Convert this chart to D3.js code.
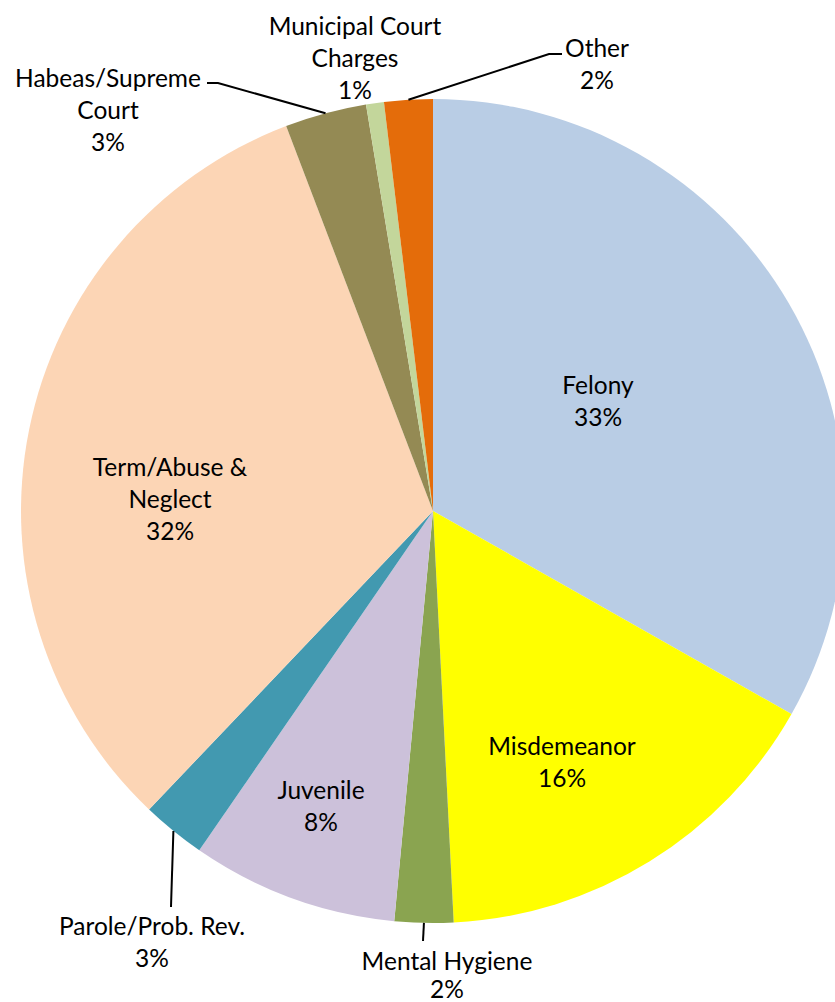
<!DOCTYPE html>
<html>
<head>
<meta charset="utf-8">
<script src="https://cdn.jsdelivr.net/npm/d3@7"></script>
<style>
  body { margin: 0; background: #fff; }
  svg text { font-family: Lato, "Open Sans", sans-serif; fill: #000; }
</style>
</head>
<body>
<div id="chart"></div>
<script>
// slices, clockwise from 12 o'clock
let categories = ["Felony", "Misdemeanor", "Mental Hygiene", "Juvenile", "Parole/Prob. Rev.",
  "Term/Abuse & Neglect", "Habeas/Supreme Court", "Municipal Court Charges", "Other"];
let values = [33.2, 16.0, 2.3, 8.1, 2.5, 32.1, 3.2, 0.7, 1.9];
let pctLabels = ["33%", "16%", "2%", "8%", "3%", "32%", "3%", "1%", "2%"];
let colors = ["#B9CDE5", "#FFFF00", "#8AA450", "#CCC1DA", "#4299B0",
  "#FCD5B5", "#948A54", "#C3D69B", "#E46C0A"];

// label layout: text lines, block centre, optional leader line bend points
let labelLines = [
  ["Felony"], ["Misdemeanor"], ["Mental Hygiene"], ["Juvenile"], ["Parole/Prob. Rev."],
  ["Term/Abuse &", "Neglect"], ["Habeas/Supreme", "Court"], ["Municipal Court", "Charges"], ["Other"]
];
let labelAt = [[598, 384], [562, 745], [447, 960], [321, 789], [152, 925],
  [170, 466], [108, 77], [355, 25], [597, 47]];
let leaders = [null, null, [[423, 941]], null, [[171, 907]],
  null, [[218, 83], [207, 83]], null, [[549, 54], [562, 54]]];

let width = 835, height = 1002;
let cx = 433, cy = 511, radius = 412;
let lineH = 32;

let svg = d3.select("#chart").append("svg")
    .attr("width", width)
    .attr("height", height);

let g = svg.append("g")
    .attr("transform", "translate(" + cx + "," + cy + ")");

let pie = d3.pie().sort(null).value(d => d);
let arc = d3.arc().innerRadius(0).outerRadius(radius);
let arcs = pie(values);

g.selectAll("path.slice")
    .data(arcs)
  .enter()
    .append("path")
      .attr("class", "slice")
      .attr("d", arc)
      .attr("fill", (d, i) => colors[i]);

// leader lines from the outer edge at the slice's mid angle
arcs.forEach((d, i) => {
  if (!leaders[i]) return;
  let a = (d.startAngle + d.endAngle) / 2;
  let pts = [[cx + radius * Math.sin(a), cy - radius * Math.cos(a)]].concat(leaders[i]);
  svg.append("path")
      .attr("d", d3.line()(pts))
      .attr("fill", "none")
      .attr("stroke", "#000")
      .attr("stroke-width", 2);
});

// labels
categories.forEach((c, i) => {
  let lines = labelLines[i].concat([pctLabels[i]]);
  let t = svg.append("text")
      .attr("text-anchor", "middle")
      .attr("font-size", 24.5);
  lines.forEach((l, k) => {
    t.append("tspan")
        .attr("x", labelAt[i][0])
        .attr("y", labelAt[i][1] + k * (i === 2 ? 28 : lineH))
        .attr("dominant-baseline", "central")
        .text(l);
  });
});
</script>
</body>
</html>
